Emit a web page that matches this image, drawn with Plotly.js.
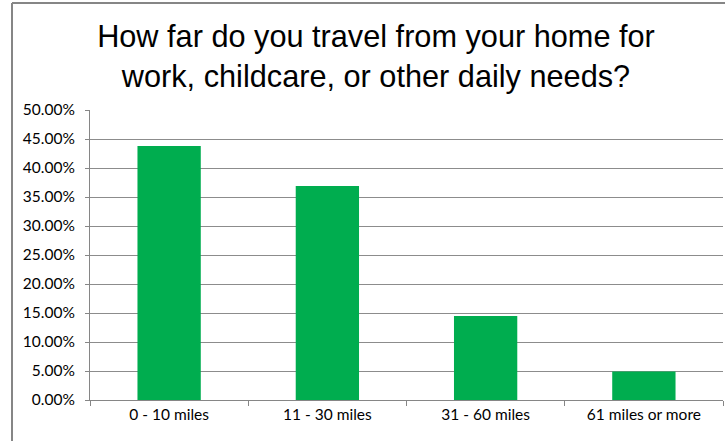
<!DOCTYPE html>
<html>
<head>
<meta charset="utf-8">
<script src="https://cdn.plot.ly/plotly-3.0.1.min.js"></script>
<style>html,body{margin:0;padding:0;background:#fff;}#chart{width:725px;height:441px;}</style>
</head>
<body>
<div id="chart"></div>
<script>
const categories = ["0 - 10 miles", "11 - 30 miles", "31 - 60 miles", "61 miles or more"];
const shares = [0.438, 0.369, 0.145, 0.049];
const yTickValues = [0, 0.05, 0.10, 0.15, 0.20, 0.25, 0.30, 0.35, 0.40, 0.45, 0.50];
const chartTitle = "How far do you travel from your home for<br>work, childcare, or other daily needs?";

const W = 725, H = 441, L = 90, R = 2, T = 110, B = 41;
const pw = W - L - R, ph = H - T - B;
const px = v => (v - L) / pw;
const py = v => 1 - (v - T) / ph;

Plotly.newPlot('chart', [{
  type: 'bar',
  x: categories,
  y: shares,
  width: 0.4,
  marker: {color: '#00ad4f', line: {width: 0}},
  hoverinfo: 'none'
}], {
  width: W, height: H,
  margin: {l: L, r: R, t: T, b: B, pad: 0},
  paper_bgcolor: '#fff', plot_bgcolor: '#fff',
  showlegend: false,
  title: {
    text: chartTitle,
    font: {family: 'Liberation Sans, Arial, sans-serif', size: 30.7, color: '#000'},
    x: 0.5186, xanchor: 'center', y: 0.893, yanchor: 'top'
  },
  xaxis: {
    type: 'category',
    showgrid: false,
    showline: true, linecolor: '#868686', linewidth: 1,
    ticks: 'outside', tickson: 'boundaries', ticklen: 5, tickcolor: '#868686',
    tickfont: {family: 'Lato, Carlito, sans-serif', size: 15.5, color: '#000'},
    fixedrange: true
  },
  yaxis: {
    range: [0, 0.5],
    tickvals: yTickValues,
    tickformat: '.2%',
    showgrid: true, gridcolor: '#8c8c8c', gridwidth: 1,
    showline: true, linecolor: '#868686', linewidth: 1,
    ticks: 'outside', ticklen: 4, tickcolor: '#868686',
    ticklabelstandoff: 7,
    zeroline: false,
    tickfont: {family: 'Lato, Carlito, sans-serif', size: 15.5, color: '#000'},
    fixedrange: true
  },
  shapes: [
    {type: 'line', xref: 'paper', yref: 'paper', x0: px(12), x1: px(12), y0: py(3), y1: py(441), line: {color: '#868686', width: 2}},
    {type: 'line', xref: 'paper', yref: 'paper', x0: px(12), x1: px(725), y0: py(3), y1: py(3), line: {color: '#868686', width: 2}}
  ]
}, {displayModeBar: false, staticPlot: true});
</script>
</body>
</html>
